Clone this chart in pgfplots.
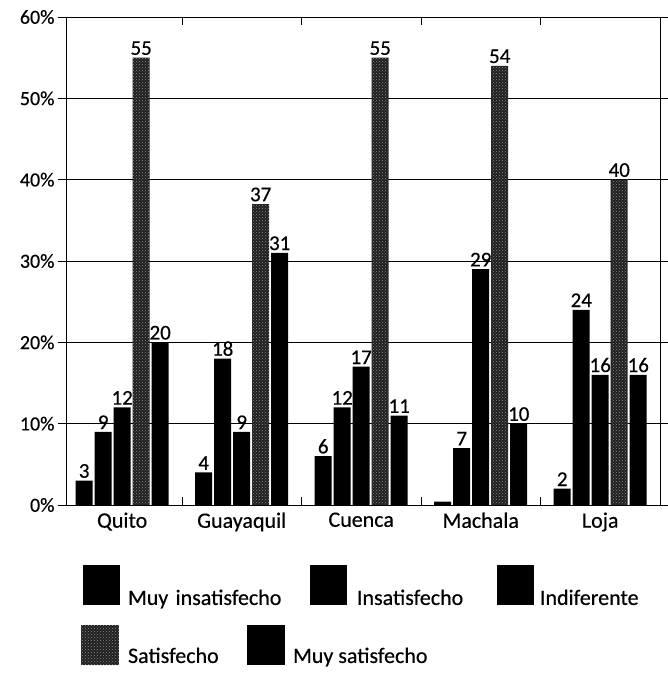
\documentclass[border=0pt]{standalone}
\usepackage{fontspec}
\setmainfont{Carlito}[FakeBold=0.4]
\usepackage{pgfplots}
\pgfplotsset{compat=1.18}
\usetikzlibrary{patterns}

\pgfplotsset{
  blackbar/.style={fill=black, draw=none},
  satbar/.style={fill=black!88, draw=none, postaction={pattern=crosshatch dots, pattern color=black!45}},
  boxleg/.style={legend image code/.code={\fill[##1] (0pt,-7pt) rectangle (37pt,33pt);}},
}

\begin{document}
\begin{tikzpicture}
\useasboundingbox (0,0) rectangle (667pt,675pt);
\begin{axis}[
  at={(66pt,170pt)}, anchor=south west,
  scale only axis, width=594pt, height=488pt,
  ybar, bar width=17pt,
  xmin=-0.47, xmax=4.5, ymin=0, ymax=60,
  xtick={0.5,1.5,2.5,3.5}, xticklabels={},
  extra x ticks={0,1,2,3,4},
  extra x tick labels={Quito,Guayaquil,Cuenca,Machala,Loja},
  extra x tick style={major tick length=0pt, tick label style={font=\fontsize{22}{25}\selectfont, yshift=-4pt}},
  xtick align=inside,
  ytick={0,10,...,60},
  yticklabel={\pgfmathprintnumber{\tick}\%},
  ytick align=outside,
  major tick length=8pt,
  ymajorgrids, grid style={black, line width=0.8pt},
  axis line style={black, line width=0.9pt},
  tick style={black, line width=0.8pt},
  y tick label style={font=\fontsize{20}{24}\selectfont},
  /pgf/number format/assume math mode=true,
  point meta=explicit symbolic,
  nodes near coords,
  nodes near coords style={font=\fontsize{21}{24}\selectfont, black, inner sep=2.5pt, anchor=south},
  legend columns=3,
  legend cell align=left,
  legend style={at={(axis description cs:0.0286,-0.123)}, anchor=north west,
    draw=none, fill=none, inner sep=0pt, outer sep=0pt,
    font=\fontsize{22}{26}\selectfont,
    nodes={inner sep=0pt, outer sep=0pt, align=left},
    column sep=0pt,
    /tikz/column 1/.style={column sep=8pt},
    /tikz/column 2/.style={nodes={text width=182pt, align=left}},
    /tikz/column 3/.style={column sep=10pt},
    /tikz/column 4/.style={nodes={text width=140pt, align=left}},
    /tikz/column 5/.style={column sep=6pt},
  },
]
\addplot[blackbar, boxleg, bar shift=-38pt] coordinates {(0,3)[3] (1,4)[4] (2,6)[6] (3,0.4)[\relax] (4,2)[2]};
\addplot[blackbar, boxleg, bar shift=-19pt] coordinates {(0,9)[9] (1,18)[18] (2,12)[12] (3,7)[7] (4,24)[24]};
\addplot[blackbar, boxleg, bar shift=0pt] coordinates {(0,12)[12] (1,9)[9] (2,17)[17] (3,29)[29] (4,16)[16]};
\addplot[satbar, boxleg, bar shift=19pt] coordinates {(0,55)[55] (1,37)[37] (2,55)[55] (3,54)[54] (4,40)[40]};
\addplot[blackbar, boxleg, bar shift=38pt] coordinates {(0,20)[20] (1,31)[31] (2,11)[11] (3,10)[10] (4,16)[16]};
\legend{Muy insatisfecho, Insatisfecho, Indiferente}
\end{axis}
\begin{axis}[
  at={(66pt,170pt)}, anchor=south west,
  scale only axis, width=594pt, height=488pt,
  hide axis, xmin=0, xmax=1, ymin=0, ymax=1,
  legend columns=2,
  legend cell align=left,
  legend image code/.code={\fill[#1] (0pt,-9pt) rectangle (38pt,31pt);},
  legend style={at={(axis description cs:0.0253,-0.246)}, anchor=north west,
    draw=none, fill=none, inner sep=0pt, outer sep=0pt,
    font=\fontsize{22}{26}\selectfont,
    nodes={inner sep=0pt, outer sep=0pt, align=left},
    column sep=0pt,
    /tikz/column 1/.style={column sep=9pt},
    /tikz/column 2/.style={nodes={text width=119pt, align=left}},
    /tikz/column 3/.style={column sep=8pt},
  },
]
\addlegendimage{satbar}
\addlegendimage{blackbar}
\legend{Satisfecho, Muy satisfecho}
\end{axis}
\end{tikzpicture}
\end{document}
